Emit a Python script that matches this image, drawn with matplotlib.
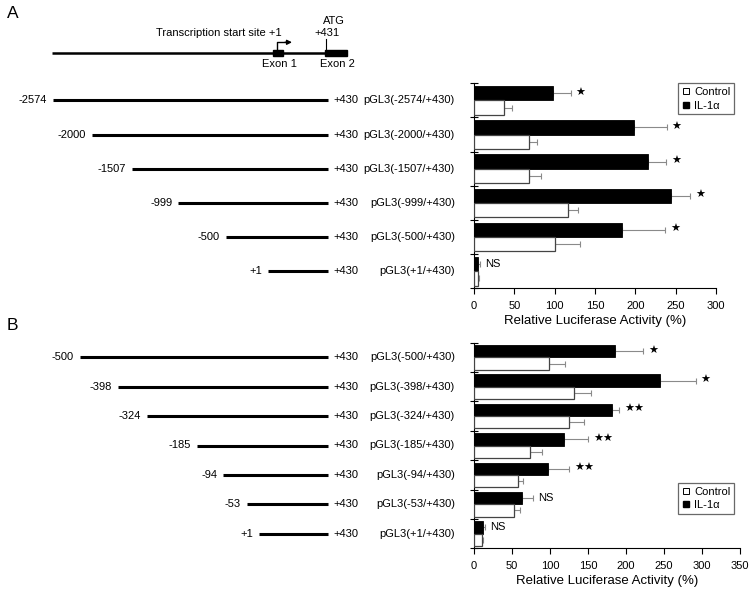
import matplotlib
matplotlib.use("Agg")
import matplotlib.pyplot as plt
from matplotlib.lines import Line2D
from matplotlib.patches import Rectangle
import matplotlib.transforms as mtrans
import numpy as np

plt.rcParams['font.family'] = ['Liberation Sans', 'DejaVu Sans']

# ---------------- data ----------------
a_starts = ['-2574', '-2000', '-1507', '-999', '-500', '+1']
a_labels = ['pGL3(-2574/+430)', 'pGL3(-2000/+430)', 'pGL3(-1507/+430)',
            'pGL3(-999/+430)', 'pGL3(-500/+430)', 'pGL3(+1/+430)']
a_il1 = [98, 198, 216, 244, 183, 4.5]
a_il1_err = [22, 41, 22, 24, 54, 2.5]
a_ctrl = [37, 68, 68.5, 116, 100, 5]
a_ctrl_err = [10, 10, 14.5, 13, 32, 1.5]
a_sig = ['*', '*', '*', '*', '*', 'NS']
# schematic left end of each construct line (diagram units)
a_line_left = [52.7, 91.7, 131.7, 178.3, 225.7, 268.3]

b_starts = ['-500', '-398', '-324', '-185', '-94', '-53', '+1']
b_labels = ['pGL3(-500/+430)', 'pGL3(-398/+430)', 'pGL3(-324/+430)',
            'pGL3(-185/+430)', 'pGL3(-94/+430)', 'pGL3(-53/+430)', 'pGL3(+1/+430)']
b_il1 = [186, 245, 181.5, 119, 98, 63.5, 12]
b_il1_err = [37, 47, 9.5, 31, 27, 13.5, 2.5]
b_ctrl = [99, 132, 125, 74, 57.5, 53, 10.5]
b_ctrl_err = [21, 22, 20, 16, 7.5, 7.5, 1.5]
b_sig = ['*', '*', '**', '**', '**', 'NS', 'NS']
b_line_left = [80, 118.3, 146.7, 196.7, 223.3, 246.7, 259.3]

end_label = '+430'
xlabel = 'Relative Luciferase Activity (%)'
a_xticks = [0, 50, 100, 150, 200, 250, 300]
b_xticks = [0, 50, 100, 150, 200, 250, 300, 350]

W, H = 750, 592
fig = plt.figure(figsize=(W / 100, H / 100), dpi=100)


def rect(x0, y0, x1, y1):
    return [x0 / W, 1 - y1 / H, (x1 - x0) / W, (y1 - y0) / H]


ax0 = fig.add_axes([0, 0, 1, 1])
ax0.set_xlim(0, W)
ax0.set_ylim(H, 0)
ax0.axis('off')

axA = fig.add_axes(rect(474, 83.3, 716, 288.3))
axB = fig.add_axes(rect(474, 342.7, 740, 548.3))

FS = 8


def bar_panel(ax, il1, il1e, ctrl, ctrle, sig, xmax, xticks):
    n = len(il1)
    idx = np.arange(n)
    yb = idx + 0.29
    yw = idx + 0.71
    h = 0.42
    ax.barh(yb, il1, height=h, color='black', edgecolor='black', lw=0.6, zorder=3)
    ax.barh(yw, ctrl, height=h, color='white', edgecolor='#444444', lw=0.9, zorder=3)
    ax.errorbar(il1, yb, xerr=[np.zeros(n), il1e], fmt='none', ecolor='#8a8a8a',
                elinewidth=0.8, capsize=2, capthick=0.8, zorder=2)
    ax.errorbar(ctrl, yw, xerr=[np.zeros(n), ctrle], fmt='none', ecolor='#8a8a8a',
                elinewidth=0.8, capsize=2, capthick=0.8, zorder=2)
    for v, e, y, s in zip(il1, il1e, yb, sig):
        if s == 'NS':
            ax.annotate('NS', xy=(v + e, y), xytext=(4, 0), textcoords='offset points',
                        ha='left', va='center', fontsize=FS)
        else:
            ax.annotate('\u2605' * len(s), xy=(v + e, y), xytext=(3.5, 0.5),
                        textcoords='offset points', ha='left', va='center',
                        fontsize=8, family='DejaVu Sans')
    ax.set_ylim(n, 0)
    ax.set_xlim(0, xmax)
    ax.set_yticks(np.arange(n + 1))
    ax.set_yticklabels([])
    ax.tick_params(axis='y', direction='inout', length=6, width=0.8)
    ax.set_xticks(xticks)
    ax.tick_params(axis='x', direction='out', length=4, width=0.8, labelsize=FS, pad=5)
    for sp in ['top', 'right']:
        ax.spines[sp].set_visible(False)
    for sp in ['left', 'bottom']:
        ax.spines[sp].set_linewidth(0.8)
    ax.spines['left'].set_bounds(n, 0)
    ax.set_xlabel(xlabel, fontsize=9.5, labelpad=3)
    ax.patch.set_alpha(0)


bar_panel(axA, a_il1, a_il1_err, a_ctrl, a_ctrl_err, a_sig, 300, a_xticks)
bar_panel(axB, b_il1, b_il1_err, b_ctrl, b_ctrl_err, b_sig, 350, b_xticks)


def constructs(ax, starts, labels, lefts):
    tr = mtrans.blended_transform_factory(ax0.transData, ax.transData)
    for i, (s, lab, xl) in enumerate(zip(starts, labels, lefts)):
        y = i + 0.5
        ax0.plot([xl, 327.5], [y, y], color='black', lw=2.2, transform=tr,
                 solid_capstyle='butt', clip_on=False)
        ax0.text(xl - 6, y, s, ha='right', va='center', fontsize=FS, transform=tr)
        ax0.text(333, y, end_label, ha='left', va='center', fontsize=FS, transform=tr)
        ax0.text(455, y, lab, ha='right', va='center', fontsize=FS, transform=tr)


constructs(axA, a_starts, a_labels, a_line_left)
constructs(axB, b_starts, b_labels, b_line_left)

# gene schematic (top)
ax0.plot([51.7, 346.7], [52.5, 52.5], color='black', lw=1.8, solid_capstyle='butt')
ax0.add_patch(Rectangle((273, 49.5), 10, 6, color='black'))
ax0.add_patch(Rectangle((325, 49.5), 22, 6.5, color='black'))
ax0.plot([277, 277, 286], [49.5, 42.3, 42.3], color='black', lw=1.0)
ax0.annotate('', xy=(292, 42.3), xytext=(285, 42.3),
             arrowprops=dict(arrowstyle='-|>', color='black', lw=1.0,
                             mutation_scale=7, shrinkA=0, shrinkB=0))
ax0.plot([325.5, 325.5], [39, 49.5], color='black', lw=0.8)
ax0.text(281.5, 33.5, 'Transcription start site +1', ha='right', va='center', fontsize=FS)
ax0.text(326.5, 33.5, '+431', ha='center', va='center', fontsize=FS)
ax0.text(334, 20.5, 'ATG', ha='center', va='center', fontsize=FS)
ax0.text(279.5, 64, 'Exon 1', ha='center', va='center', fontsize=FS)
ax0.text(337, 64, 'Exon 2', ha='center', va='center', fontsize=FS)

ax0.text(7, 14, 'A', ha='left', va='center', fontsize=12.5)
ax0.text(7, 325, 'B', ha='left', va='center', fontsize=12.5)

# legends
handles = [Line2D([], [], marker='s', ls='none', markersize=5, markerfacecolor='white',
                  markeredgecolor='black', markeredgewidth=0.7),
           Line2D([], [], marker='s', ls='none', markersize=5, markerfacecolor='black',
                  markeredgecolor='black')]
names = ['Control', 'IL-1\u03b1']
for (lx, ly) in [(678, 83.3), (678, 483)]:
    leg = fig.legend(handles, names, loc='upper left',
                     bbox_to_anchor=(lx / W, 1 - ly / H), borderaxespad=0,
                     fontsize=FS, frameon=True, fancybox=False, handlelength=0.7,
                     handletextpad=0.4, labelspacing=0.3, borderpad=0.35)
    leg.get_frame().set_edgecolor('#444444')
    leg.get_frame().set_linewidth(0.9)

fig.savefig('out.png', dpi=100)
